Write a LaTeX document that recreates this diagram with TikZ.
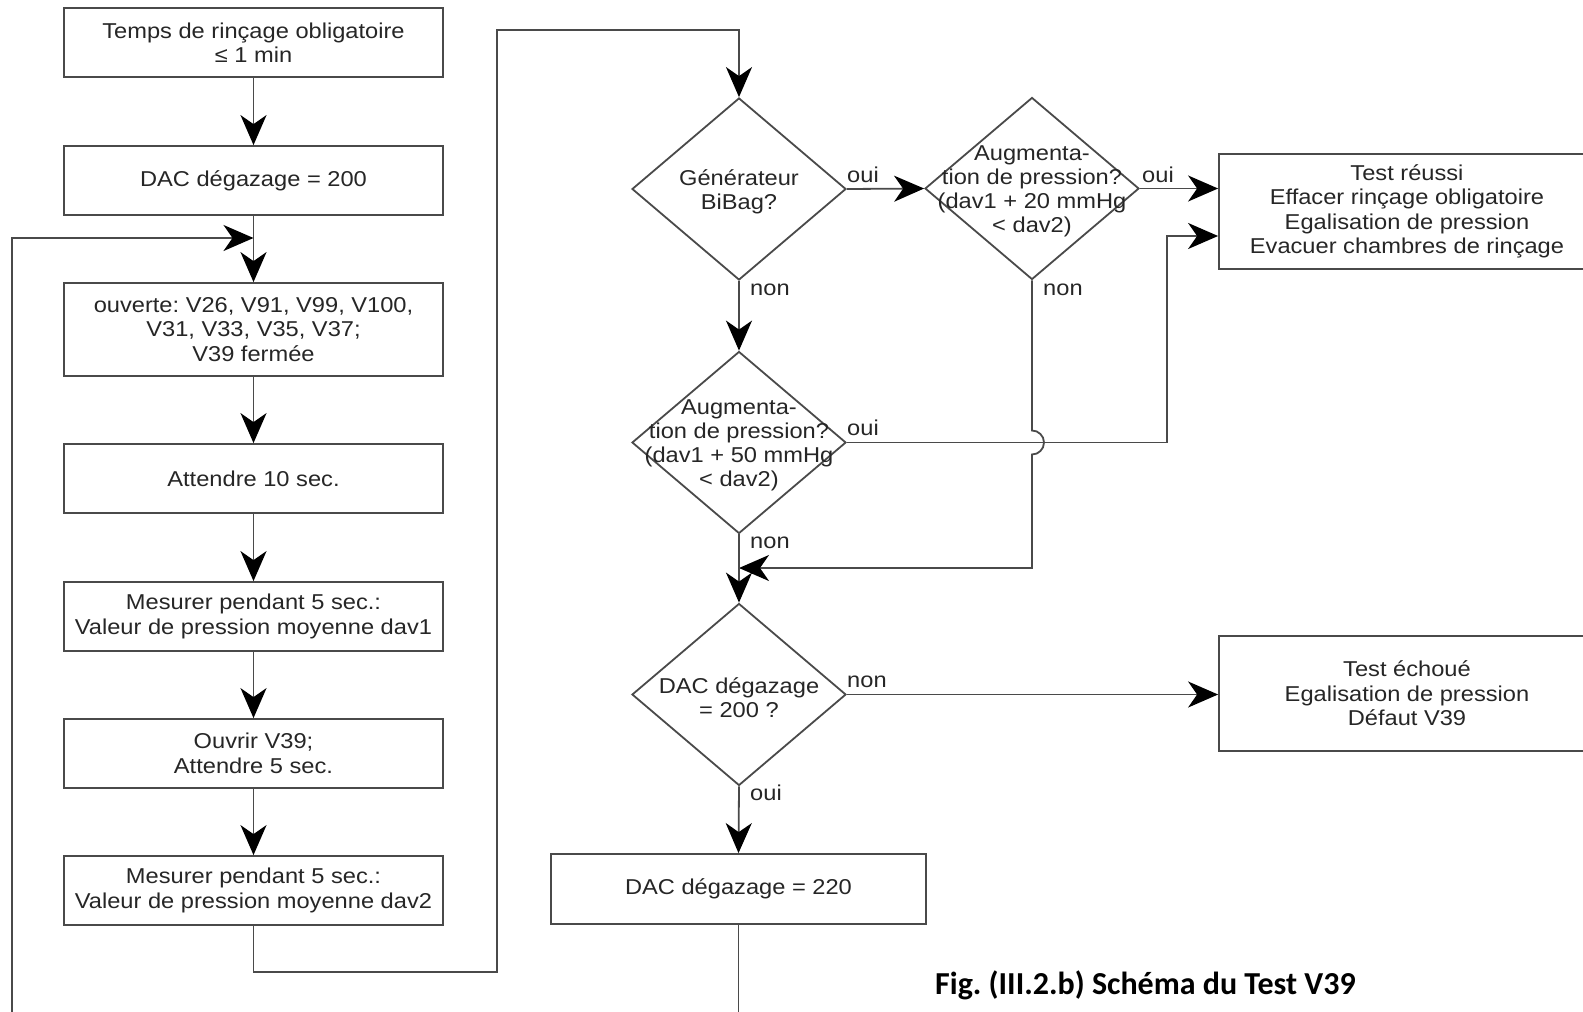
\documentclass[tikz,border=0pt]{standalone}
\usepackage{fontspec}
\setmainfont{Liberation Sans}[FakeStretch=1.1]
\newfontfamily\capfont{Carlito}
\usetikzlibrary{arrows.meta,shapes.geometric,calc}
\definecolor{ln}{HTML}{4A4A4A}
\definecolor{tx}{HTML}{262626}
\begin{document}
\frenchspacing
\begin{tikzpicture}[x=1pt,y=-1pt,
  box/.style={draw=ln, line width=1.8pt, minimum width=379pt, minimum height=69pt, inner sep=0pt, align=center, font=\fontsize{21.5}{24.5}\selectfont, text=tx},
  dia/.style={draw=ln, line width=1.8pt, diamond, minimum width=214pt, minimum height=182pt, inner sep=0pt},
  dtxt/.style={align=center, inner sep=0pt, font=\fontsize{21.5}{24}\selectfont, text=tx},
  lbl/.style={anchor=base west, inner sep=0pt, font=\fontsize{21.5}{24}\selectfont, text=tx},
  conn/.style={draw=ln, line width=1.8pt},
  arr/.style={conn, -{Stealth[length=30pt,width=26pt,inset=9pt,color=black]}}]
\useasboundingbox (0,0) rectangle (1583,1012);
\clip (0,0) rectangle (1583,1012);
\fill[white] (0,0) rectangle (1583,1012);

% left column
\node[box] (b1) at (253.5,42.5) {Temps de rinçage obligatoire\\≤ 1 min};
\node[box] (b2) at (253.5,180.5) {DAC dégazage = 200};
\node[box, minimum height=93pt] (b3) at (253.5,329.5) {ouverte: V26, V91, V99, V100,\\V31, V33, V35, V37;\\V39 fermée};
\node[box] (b4) at (253.5,478.5) {Attendre 10 sec.};
\node[box] (b5) at (253.5,616.5) {Mesurer pendant 5 sec.:\\Valeur de pression moyenne dav1};
\node[box] (b6) at (253.5,753.5) {Ouvrir V39;\\Attendre 5 sec.};
\node[box] (b7) at (253.5,890.5) {Mesurer pendant 5 sec.:\\Valeur de pression moyenne dav2};

% decision column
\node[dia] (d1) at (739,189) {};
\node[dtxt] (d1t) at ($(d1)+(0,3)$) {Générateur\\BiBag?};
\node[dia] (d2) at (1032,188.5) {};
\node[dtxt] (d2t) at ($(d2)+(0,3)$) {Augmenta-\\tion de pression?\\(dav1 + 20 mmHg\\< dav2)};
\node[dia] (d3) at (739,442.5) {};
\node[dtxt] (d3t) at ($(d3)+(0,3)$) {Augmenta-\\tion de pression?\\(dav1 + 50 mmHg\\< dav2)};
\node[dia] (d4) at (739,694.5) {};
\node[dtxt] (d4t) at ($(d4)+(0,3)$) {DAC dégazage\\= 200 ?};
\node[box, minimum width=375pt, minimum height=70pt] (c220) at (738.5,889) {DAC dégazage = 220};

% result boxes
\node[box, minimum width=376pt, minimum height=115pt] (ok) at (1407,211.5) {Test réussi\\Effacer rinçage obligatoire\\Egalisation de pression\\Evacuer chambres de rinçage};
\node[box, minimum width=376pt, minimum height=115pt] (fail) at (1407,693.5) {Test échoué\\Egalisation de pression\\Défaut V39};

% left column connectors
\draw[arr] (b1) -- (b2);
\draw[arr] (b2) -- (b3);
\draw[arr] (b3) -- (b4);
\draw[arr] (b4) -- (b5);
\draw[arr] (b5) -- (b6);
\draw[arr] (b6) -- (b7);
\coordinate (loopin) at (12,1030);
\coordinate (join) at (253.5,238);
\draw[arr] (loopin) |- (join);
\coordinate (c1) at (497,30);
\draw[arr] (b7.south) -- ++(0,46) -| (c1) -| (d1.north);

% decision connectors
\draw[arr] (d1.east) -- (d2.west);
\node[lbl] (l1) at (847,182) {oui};
\draw[arr] (d2.east) -- (d2.east -| ok.west);
\node[lbl] (l2) at (1142,182) {oui};
\draw[arr] (d1.south) -- (d3.north);
\node[lbl] (l3) at (750,295) {non};
\coordinate (kx) at (1167,0);
\draw[arr] (d3.east) -- (d3.east -| kx) |- ($(ok.west)+(0,24.5)$);
\node[lbl] (l4) at (847,435) {oui};
\coordinate (hop) at (d2.south |- d3.east);
\coordinate (m) at (739,568);
\draw[arr] (d2.south) -- ($(hop)+(0,-12)$) arc[start angle=-90, end angle=90, radius=12] -- (d2.south |- m) -- (m);
\node[lbl] (l5) at (1043,295) {non};
\draw[arr] (d3.south) -- (d4.north);
\node[lbl] (l6) at (750,548) {non};
\draw[arr] (d4.east) -- (d4.east -| fail.west);
\node[lbl] (l7) at (847,687) {non};
\draw[arr] (d4.south) -- (c220.north);
\node[lbl] (l8) at (750,800) {oui};
\coordinate (out) at (738.5,1030);
\draw[conn] (c220.south) -- (out);

% caption
\node[anchor=base west, inner sep=0pt, font=\capfont\bfseries\fontsize{32}{38}\selectfont] (cap) at (935,994) {Fig. (III.2.b) Schéma du Test V39};
\end{tikzpicture}
\end{document}
